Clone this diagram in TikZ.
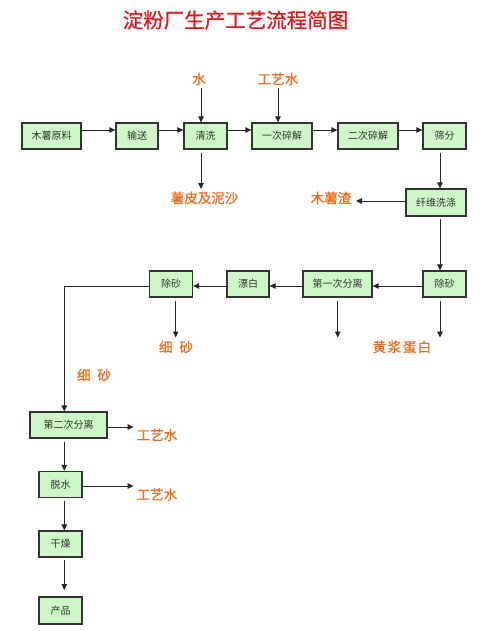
\documentclass[tikz,border=0pt]{standalone}
\usepackage{fontspec}
\setmainfont{Noto Sans CJK SC}
\newfontfamily\cjk{Noto Sans CJK SC}
\newfontfamily\cjkb{Noto Sans CJK SC}[FakeBold=0.9]
\newfontfamily\cjkt{Noto Sans CJK SC}[FakeBold=0.6]
\usetikzlibrary{arrows.meta}
\definecolor{boxfill}{RGB}{206,247,200}
\definecolor{boxline}{RGB}{51,51,51}
\definecolor{lbl}{RGB}{238,108,28}
\definecolor{ttl}{RGB}{232,20,28}
\begin{document}
\begin{tikzpicture}[x=1pt,y=-1pt,
  box/.style={draw=boxline,line width=1.3pt,fill=boxfill,minimum height=26pt,inner sep=0pt,
    font=\cjk\fontsize{10}{10}\selectfont,text=black!80},
  lab/.style={inner sep=0pt,text=lbl,font=\cjkb\fontsize{13.5}{13.5}\selectfont},
  arr/.style={draw=black!85,line width=0.9pt,-{Triangle[length=6pt,width=5.5pt]}},
  ln/.style={draw=black!85,line width=0.9pt}]
\useasboundingbox (0,0) rectangle (488,631);
\fill[white] (0,0) rectangle (488,631);
% title
\node[inner sep=0pt,text=ttl,font=\cjkt\fontsize{20.5}{20.5}\selectfont] (title) at (235.5,20) {淀粉厂生产工艺流程简图};
% row 1
\node[box,minimum width=59pt] (raw) at (51.5,136) {木薯原料};
\node[box,minimum width=42pt] (conv) at (137,136) {输送};
\node[box,minimum width=43pt] (wash) at (205.5,136) {清洗};
\node[box,minimum width=60pt] (crushA) at (282,136) {一次碎解};
\node[box,minimum width=60pt] (crushB) at (368,136) {二次碎解};
\node[box,minimum width=43pt] (sieve) at (444.5,136) {筛分};
% right column
\node[box,minimum width=60pt,minimum height=27pt] (fiber) at (436,202.5) {纤维洗涤};
\node[box,minimum width=43pt] (desandA) at (444.5,284) {除砂};
\node[box,minimum width=69pt] (sepA) at (337.5,284) {第一次分离};
\node[box,minimum width=42pt] (bleach) at (248,284) {漂白};
\node[box,minimum width=43pt] (desandB) at (171,284) {除砂};
% left column
\node[box,minimum width=77pt] (sepB) at (68.5,425) {第二次分离};
\node[box,minimum width=43pt] (dewater) at (60.5,484.5) {脱水};
\node[box,minimum width=43pt] (dry) at (60.5,544) {干燥};
\node[box,minimum width=43pt,minimum height=27pt] (prod) at (60.5,610.5) {产品};
% labels
\node[lab] (water) at (199,79) {水};
\node[lab] (pwaterA) at (278,79) {工艺水};
\node[lab] (peel) at (204.5,198) {薯皮及泥沙};
\node[lab] (residue) at (331,198) {木薯渣};
\node[lab] (fsandA) at (176,347) {细\hspace{7pt}砂};
\node[lab] (yellow) at (402,347) {黄\hspace{1.5pt}浆\hspace{1.5pt}蛋\hspace{1.5pt}白};
\node[lab] (fsandB) at (94,375) {细\hspace{7pt}砂};
\node[lab] (pwaterB) at (157,435) {工艺水};
\node[lab] (pwaterC) at (157,494.5) {工艺水};
% row 1 arrows
\draw[arr] ([yshift=6pt]raw.east) -- ([yshift=6pt]conv.west);
\draw[arr] ([yshift=6pt]conv.east) -- ([yshift=6pt]wash.west);
\draw[arr] ([yshift=6pt]wash.east) -- ([yshift=6pt]crushA.west);
\draw[arr] ([yshift=6pt]crushA.east) -- ([yshift=6pt]crushB.west);
\draw[arr] ([yshift=6pt]crushB.east) -- ([yshift=6pt]sieve.west);
\draw[arr] (201,88) -- (201,0 |- wash.north);
\draw[arr] (278,88) -- (278,0 |- crushA.north);
\draw[arr] (201,153) -- (201,189);
% right column
\draw[arr] (440,153) -- (440,0 |- fiber.north);
\draw[arr] (fiber.west |- 0,201) -- (356,201);
\draw[arr] (440,219) -- (440,0 |- desandA.north);
% row 2
\draw[arr] ([yshift=-2pt]desandA.west) -- ([yshift=-2pt]sepA.east);
\draw[arr] ([yshift=-2pt]sepA.west) -- ([yshift=-2pt]bleach.east);
\draw[arr] ([yshift=-2pt]bleach.west) -- ([yshift=-2pt]desandB.east);
\draw[arr] (175.7,301) -- (175.7,337.5);
\draw[arr] (337.7,301) -- (337.7,337.5);
\draw[arr] (440,301) -- (440,337.5);
\draw[arr] ([yshift=-2pt]desandB.west) -- (64.3,286) -- (64.3,0 |- sepB.north);
% left column
\draw[arr] (sepB.east |- 0,427) -- (133.5,427);
\draw[arr] (64.3,441.7) -- (64.3,0 |- dewater.north);
\draw[arr] (dewater.east |- 0,486) -- (133.5,486);
\draw[arr] (64.3,500.7) -- (64.3,0 |- dry.north);
\draw[arr] (64.3,560) -- (64.3,590);
\end{tikzpicture}
\end{document}
